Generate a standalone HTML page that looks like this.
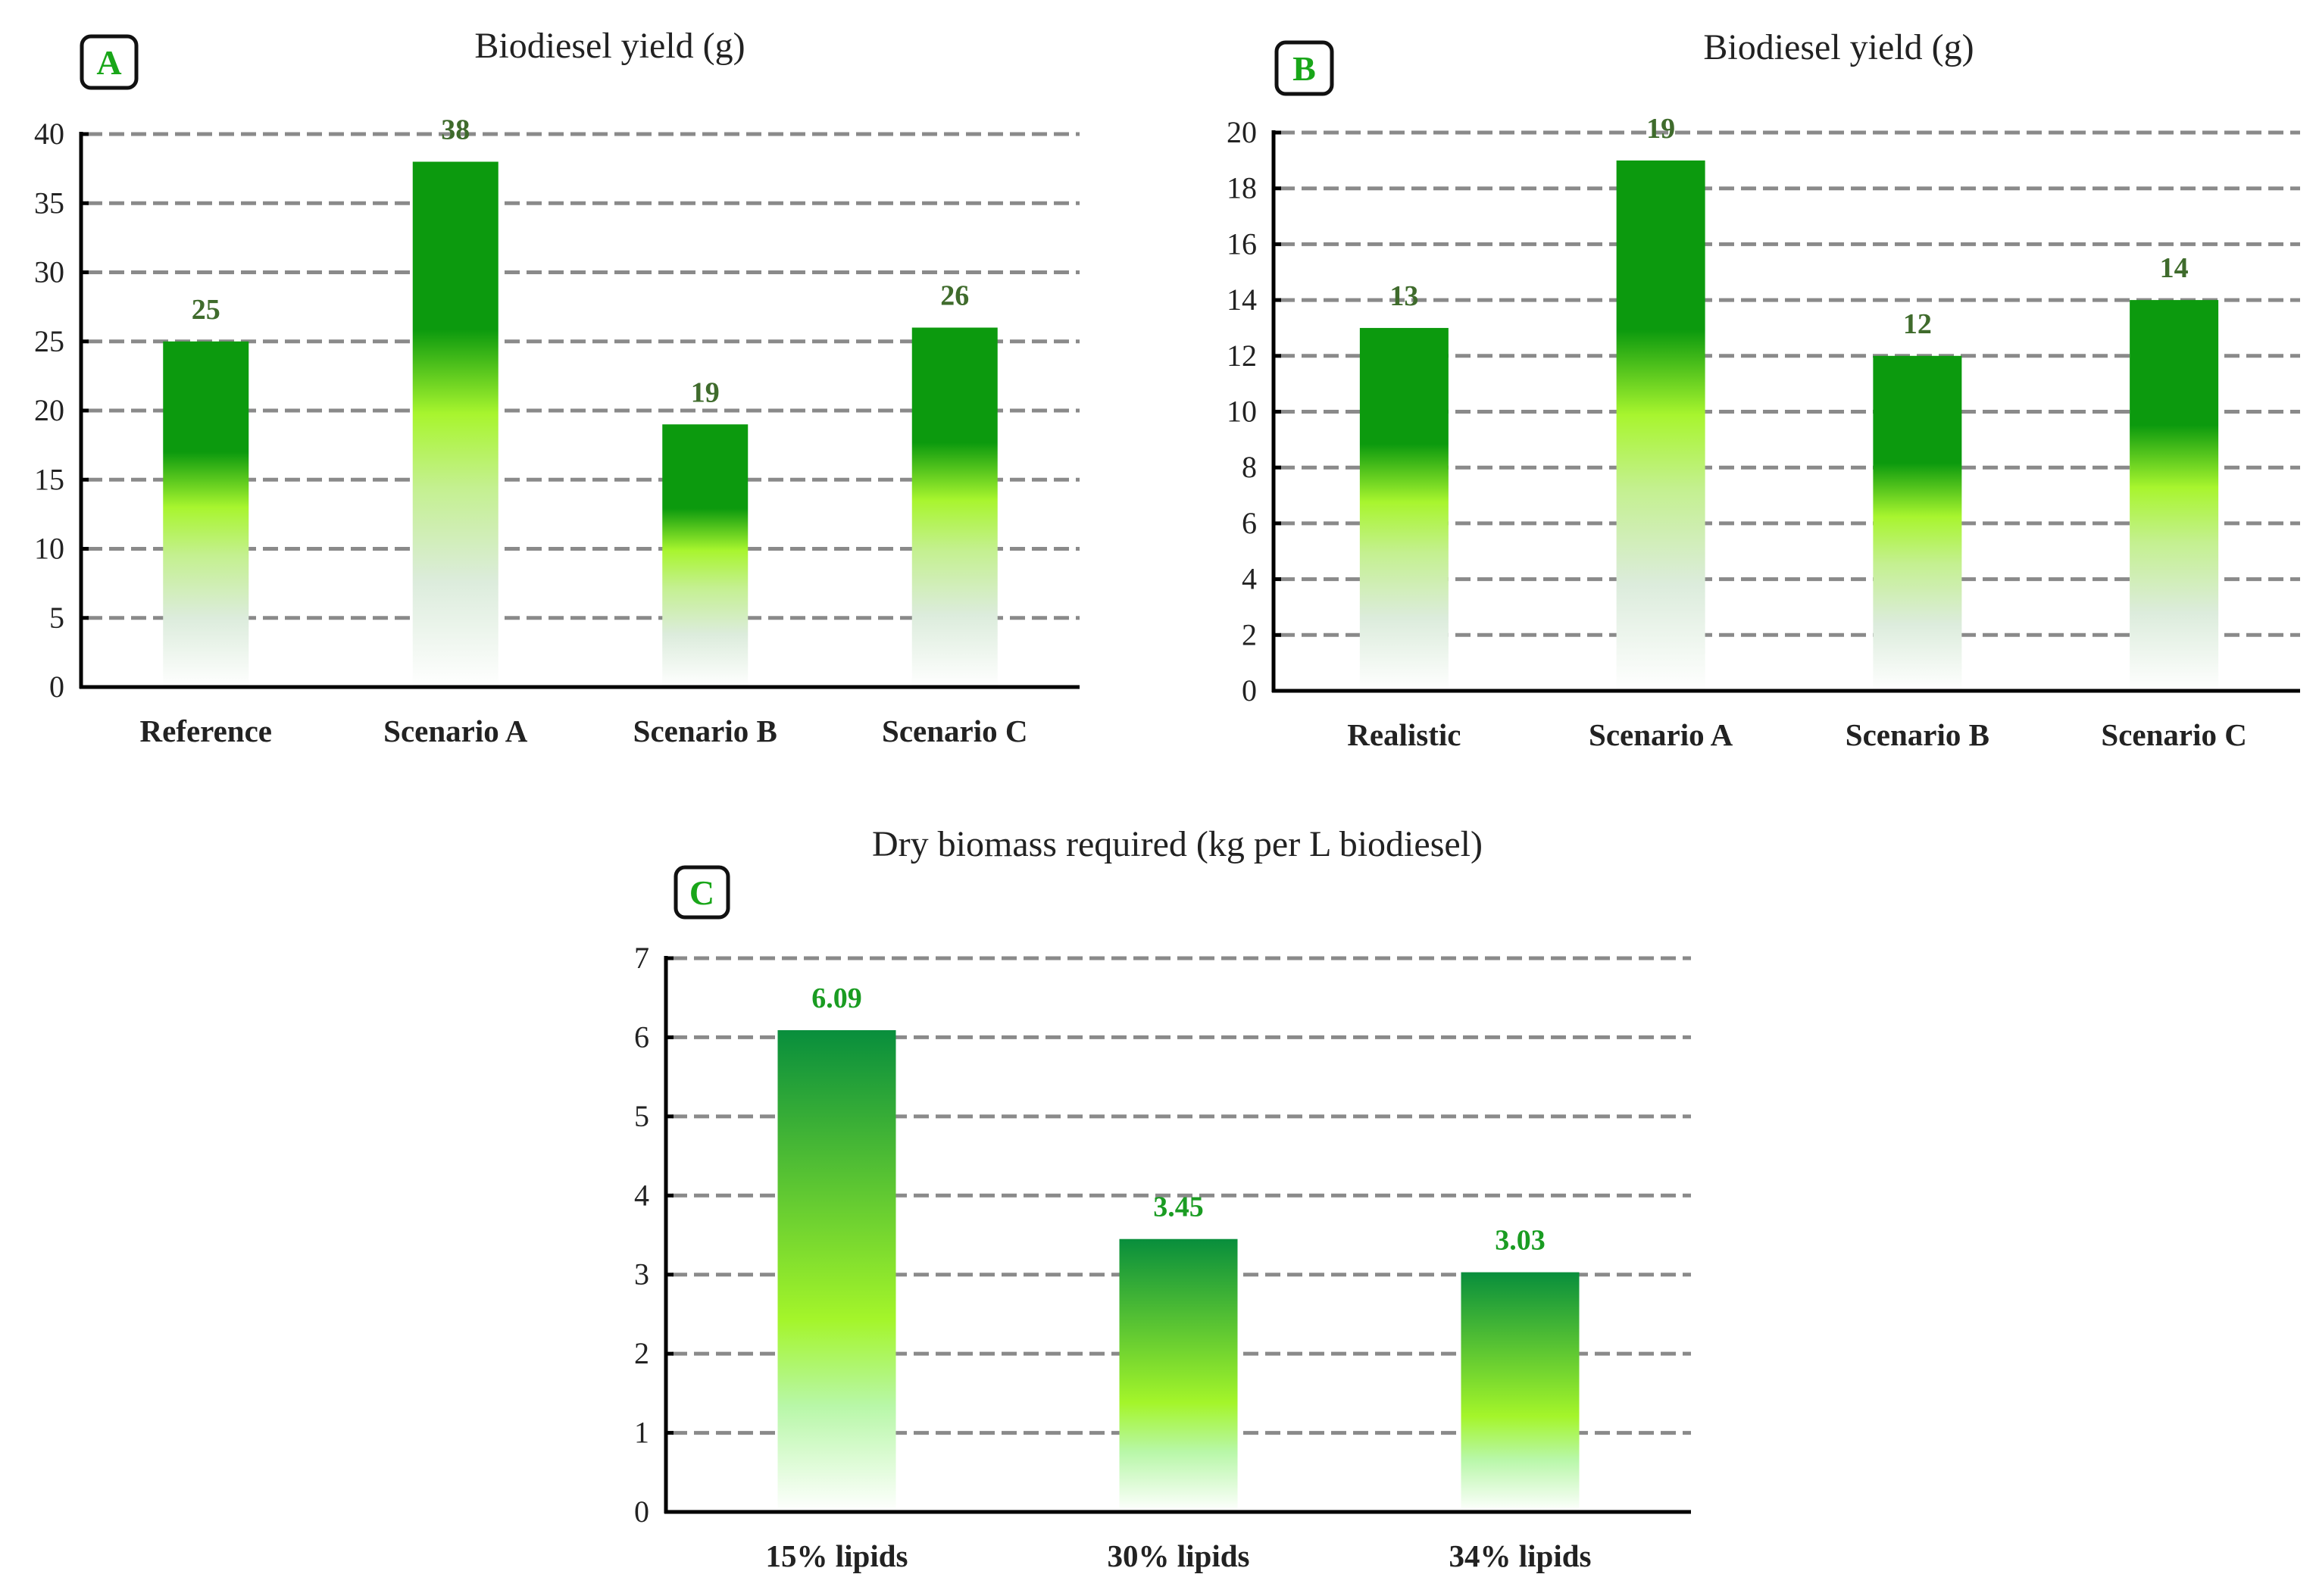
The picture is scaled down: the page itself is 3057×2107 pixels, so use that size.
<!DOCTYPE html>
<html><head><meta charset="utf-8"><style>
html,body{margin:0;padding:0;background:#fff;}
svg{display:block;font-family:"Liberation Serif",serif;}
</style></head><body>
<svg id="chart" width="3057" height="2107" viewBox="0 0 3057 2107">
<defs>
<linearGradient id="gAB" x1="0" y1="0" x2="0" y2="1">
<stop offset="0" stop-color="#0c9a0e"/><stop offset="0.32" stop-color="#0c9a0e"/>
<stop offset="0.48" stop-color="#a8f52e"/><stop offset="0.62" stop-color="#c4f090"/>
<stop offset="0.8" stop-color="#dcecdc"/><stop offset="1" stop-color="#ffffff"/>
</linearGradient>
<linearGradient id="gC" x1="0" y1="0" x2="0" y2="1">
<stop offset="0" stop-color="#088e3c"/><stop offset="0.6" stop-color="#a4f52a"/>
<stop offset="0.78" stop-color="#b8f7a8"/><stop offset="1" stop-color="#ffffff"/>
</linearGradient>
</defs>
</svg>
<script>
const catsA=["Reference","Scenario A","Scenario B","Scenario C"];
const valsA=[25,38,19,26];
const ticksA=[0,5,10,15,20,25,30,35,40];
const catsB=["Realistic","Scenario A","Scenario B","Scenario C"];
const valsB=[13,19,12,14];
const ticksB=[0,2,4,6,8,10,12,14,16,18,20];
const catsC=["15% lipids","30% lipids","34% lipids"];
const valsC=[6.09,3.45,3.03];
const labelsC=["6.09","3.45","3.03"];
const ticksC=[0,1,2,3,4,5,6,7];

const NS="http://www.w3.org/2000/svg";
const svg=document.getElementById('chart');
function mk(tag,attrs,parent,text){const e=document.createElementNS(NS,tag);for(const k in attrs)e.setAttribute(k,attrs[k]);if(text!==undefined)e.textContent=text;(parent||svg).appendChild(e);return e;}

function panel(o){
  const g=mk('g',{});
  
  
  const max=o.ticks[o.ticks.length-1];
  const y=v=>o.y0-(v/max)*(o.y0-o.yTop);
  const step=(o.xR-o.xL)/o.cats.length;
  const cx=i=>o.xL+step*(i+0.5)+o.shift;
  o.ticks.forEach(t=>{
    if(t>0){const l=mk('line',{x1:o.xL+8,x2:o.xR,y1:y(t),y2:y(t),stroke:'#8a8a8a','stroke-width':5,'stroke-dasharray':'20 9'},g);
    
    }
    const tk=mk('line',{x1:o.xL,x2:o.xL+10,y1:y(t),y2:y(t),stroke:'#000','stroke-width':5},g);
    
    
    const tl=mk('text',{x:o.xL-22,y:y(t)+13,'text-anchor':'end','font-size':40,fill:'#222'},g,String(t));
    
    
  });
  o.vals.forEach((v,i)=>{
    const r=mk('rect',{x:cx(i)-o.bw/2,y:y(v),width:o.bw,height:o.y0-y(v),fill:'url(#'+o.grad+')'},g);
    
    
    const vl=mk('text',{x:cx(i),y:y(v)-30,'text-anchor':'middle','font-size':38,'font-weight':'bold',fill:o.valColor},g,o.labels?o.labels[i]:String(v));
    
    
    const cl=mk('text',{x:cx(i),y:o.y0+72,'text-anchor':'middle','font-size':41,'font-weight':'bold',fill:'#222'},g,o.cats[i]);
    
    
  });
  const ax=mk('line',{x1:o.xL,x2:o.xL,y1:o.yTop-3,y2:o.y0+2,stroke:'#000','stroke-width':5},g);
  
  
  const bx=mk('line',{x1:o.xL-2,x2:o.xR,y1:o.y0,y2:o.y0,stroke:'#000','stroke-width':5},g);
  
  
  const t=mk('text',{x:o.titleX,y:o.titleY,'text-anchor':'middle','font-size':48,fill:'#222'},g,o.title);
  
  
  const b=mk('rect',{x:o.box[0],y:o.box[1],width:o.box[2],height:o.box[3],rx:12,fill:'#fff',stroke:'#111','stroke-width':5},g);
  
  
  const bl=mk('text',{x:o.box[0]+o.box[2]/2,y:o.box[1]+o.box[3]/2+16,'text-anchor':'middle','font-size':46,'font-weight':'bold',fill:'#19a619'},g,o.letter);
  
  
}
panel({id:'a',cats:catsA,vals:valsA,ticks:ticksA,xL:107,xR:1425,yTop:177,y0:907,bw:113,shift:0,grad:'gAB',valColor:'#3f6b2c',title:'Biodiesel yield (g)',titleX:805,titleY:76,box:[108,48,72,68],letter:'A'});
panel({id:'b',cats:catsB,vals:valsB,ticks:ticksB,xL:1681,xR:3036,yTop:175,y0:912,bw:117,shift:3,grad:'gAB',valColor:'#3f6b2c',title:'Biodiesel yield (g)',titleX:2427,titleY:78,box:[1685,56,73,68],letter:'B'});
panel({id:'c',cats:catsC,vals:valsC,labels:labelsC,ticks:ticksC,xL:879,xR:2232,yTop:1265,y0:1996,bw:156,shift:0,grad:'gC',valColor:'#1a9c22',title:'Dry biomass required (kg per L biodiesel)',titleX:1554,titleY:1130,box:[892,1145,69,66],letter:'C'});
</script>
</body></html>
